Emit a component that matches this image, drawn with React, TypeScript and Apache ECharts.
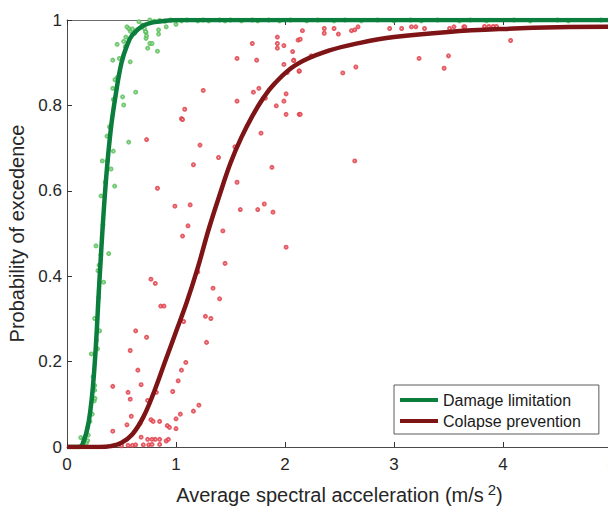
import React, { useEffect, useRef } from "react";
import * as echarts from "echarts";

const xTicks = [0, 1, 2, 3, 4, 5];
const yTicks = [0, 0.2, 0.4, 0.6, 0.8, 1];

const greenCurveX = [0, 0.1, 0.14, 0.2, 0.25, 0.3, 0.35, 0.4, 0.45, 0.5, 0.55, 0.6, 0.7, 0.8, 0.9, 1.0, 2.0, 3.0, 4.0, 5.0];
const greenCurveY = [0, 0, 0.005, 0.06, 0.18, 0.4, 0.6, 0.74, 0.83, 0.9, 0.94, 0.965, 0.987, 0.995, 0.998, 1, 1, 1, 1, 1];

const redCurveX = [0, 0.3, 0.4, 0.5, 0.6, 0.7, 0.8, 0.9, 1.0, 1.1, 1.2, 1.3, 1.4, 1.5, 1.6, 1.7, 1.8, 1.9, 2.1, 2.4, 2.7, 3.0, 3.5, 4.0, 4.5, 5.0];
const redCurveY = [0, 0, 0.002, 0.01, 0.03, 0.07, 0.13, 0.2, 0.27, 0.34, 0.42, 0.51, 0.59, 0.665, 0.725, 0.775, 0.817, 0.85, 0.895, 0.928, 0.947, 0.96, 0.972, 0.979, 0.983, 0.984];

const greenPoints = [
  [0.126, 0.022], [0.18, 0.01], [0.19, 0.015], [0.195, 0.028], [0.21, 0.06], [0.232, 0.077], [0.25, 0.108], [0.257, 0.114],
  [0.254, 0.133], [0.254, 0.144], [0.239, 0.165], [0.223, 0.218], [0.28, 0.23], [0.27, 0.25], [0.3, 0.272], [0.254, 0.301],
  [0.29, 0.35], [0.336, 0.386], [0.284, 0.413], [0.294, 0.426], [0.31, 0.45], [0.383, 0.453], [0.266, 0.471], [0.33, 0.52],
  [0.312, 0.588], [0.437, 0.611], [0.35, 0.62], [0.404, 0.651], [0.324, 0.67], [0.37, 0.67], [0.425, 0.693], [0.566, 0.714],
  [0.367, 0.728], [0.39, 0.75], [0.52, 0.801], [0.425, 0.814], [0.51, 0.82], [0.63, 0.831], [0.42, 0.84], [0.44, 0.86],
  [0.46, 0.865], [0.58, 0.902], [0.42, 0.906], [0.48, 0.91], [0.83, 0.927], [0.74, 0.934], [0.535, 0.938], [0.46, 0.943],
  [0.76, 0.945], [0.78, 0.945], [0.52, 0.95], [0.725, 0.957], [0.54, 0.96], [0.73, 0.963], [0.84, 0.967], [0.62, 0.969],
  [0.725, 0.971], [0.72, 0.973], [0.58, 0.974], [0.84, 0.977], [0.6, 0.979], [0.566, 0.98], [0.71, 0.98], [0.55, 0.984],
  [0.91, 0.984], [0.69, 0.988], [1.0, 0.99], [0.66, 0.996], [0.76, 1.0], [0.8, 0.997], [0.85, 0.999], [0.9, 0.997],
  [0.95, 1.0], [1.05, 0.998], [1.1, 1.0], [1.2, 0.998], [1.25, 1.0], [1.3, 0.998], [1.4, 1.0], [1.45, 0.998],
  [1.5, 1.0], [1.6, 0.998], [1.7, 1.0], [1.75, 0.998], [1.85, 1.0], [1.95, 0.998], [2.05, 1.0], [2.2, 0.998],
  [2.3, 1.0], [2.45, 0.998], [2.55, 1.0], [2.7, 0.998], [2.85, 1.0], [3.0, 0.998], [3.15, 1.0], [3.25, 0.998],
  [3.4, 1.0], [3.6, 0.998], [3.7, 1.0], [3.85, 0.998], [4.1, 1.0], [4.25, 0.998], [4.5, 1.0], [4.6, 0.998], [4.9, 1.0],
];

const redPoints = [
  [1.7, 0.945], [1.93, 0.96], [1.93, 0.945], [1.93, 0.934], [1.99, 0.94], [2.12, 0.953], [2.07, 0.926], [1.56, 0.91],
  [1.74, 0.906], [2.08, 0.906], [1.99, 0.896], [2.02, 0.877], [2.13, 0.88], [1.25, 0.835], [1.71, 0.831], [1.76, 0.84],
  [1.82, 0.817], [2.01, 0.827], [1.56, 0.81], [1.99, 0.81], [1.92, 0.799], [2.01, 0.779], [2.13, 0.779], [1.08, 0.791],
  [1.05, 0.769], [1.06, 0.767], [1.78, 0.735], [0.73, 0.72], [1.22, 0.707], [1.54, 0.703], [1.39, 0.678], [1.16, 0.661],
  [1.88, 0.655], [1.56, 0.62], [0.83, 0.606], [0.99, 0.564], [1.13, 0.567], [1.59, 0.556], [1.75, 0.556], [1.81, 0.569],
  [1.89, 0.55], [1.11, 0.518], [1.43, 0.506], [1.06, 0.494], [2.01, 0.468], [1.45, 0.43], [1.2, 0.41], [0.77, 0.393],
  [0.81, 0.383], [1.34, 0.372], [1.4, 0.347], [0.86, 0.33], [0.89, 0.33], [1.27, 0.306], [1.32, 0.301], [1.07, 0.294],
  [0.63, 0.272], [0.73, 0.257], [1.28, 0.245], [0.58, 0.226], [1.09, 0.198], [0.65, 0.18], [1.05, 0.18], [1.02, 0.155],
  [0.42, 0.142], [0.68, 0.146], [0.56, 0.128], [0.97, 0.13], [0.82, 0.128], [0.58, 0.112], [0.74, 0.109], [1.21, 0.098],
  [1.16, 0.084], [0.59, 0.072], [1.04, 0.077], [1.0, 0.066], [0.77, 0.064], [0.79, 0.06], [0.85, 0.06], [0.55, 0.052],
  [0.67, 0.055], [0.92, 0.05], [0.94, 0.046], [1.0, 0.043], [0.42, 0.037], [0.68, 0.023], [0.74, 0.018], [0.78, 0.018],
  [0.81, 0.018], [0.85, 0.018], [0.91, 0.014], [0.93, 0.018], [0.5, 0.003], [0.56, 0.004], [0.6, 0.004], [0.63, 0.005],
  [0.7, 0.005], [0.75, 0.005], [0.78, 0.006], [0.85, 0.006],
  [2.16, 0.975], [2.36, 0.98], [2.36, 0.969], [2.45, 0.98], [2.49, 0.967], [2.61, 0.975], [2.64, 0.977], [2.67, 0.984],
  [2.14, 0.955], [2.08, 0.905], [2.24, 0.916], [2.13, 0.881], [2.65, 0.89], [2.53, 0.876], [2.96, 0.98], [3.07, 0.98],
  [3.16, 0.984], [3.2, 0.984], [3.28, 0.98], [3.51, 0.98], [3.55, 0.984], [3.64, 0.984], [3.65, 0.984], [3.83, 0.985],
  [3.87, 0.985], [3.91, 0.985], [3.94, 0.985], [4.07, 0.952], [3.23, 0.91], [3.5, 0.916], [3.46, 0.887], [2.14, 0.779],
  [2.64, 0.67],
];

const seriesNames = ["Damage limitation", "Colapse prevention"];
const GREEN = "#0b7d3c";
const RED = "#7e1416";
const FONT = "'Liberation Sans', Arial, sans-serif";

export default function App() {
  const ref = useRef<HTMLDivElement>(null);
  useEffect(() => {
    if (!ref.current) return;
    const chart = echarts.init(ref.current, null, { renderer: "svg" });
    const greenLine = greenCurveX.map((x, i) => [x, greenCurveY[i]]);
    const redLine = redCurveX.map((x, i) => [x, redCurveY[i]]);
    const axisLine = { show: true, lineStyle: { color: "#4a4a4a", width: 1 } };
    chart.setOption({
      animation: false,
      backgroundColor: "#ffffff",
      grid: { left: 67, top: 20, width: 545, height: 427, outerBoundsMode: "none", containLabel: false },
      legend: {
        data: seriesNames,
        orient: "vertical",
        left: 394,
        top: 385,
        padding: [7, 18, 5, 6],
        itemGap: 5,
        itemWidth: 38,
        itemHeight: 4,
        icon: "rect",
        backgroundColor: "#ffffff",
        borderColor: "#5a5a5a",
        borderWidth: 1,
        borderRadius: 0,
        textStyle: { fontSize: 16, fontFamily: FONT, color: "#1a1a1a" },
      },
      xAxis: [
        {
          type: "value",
          min: xTicks[0],
          max: xTicks[xTicks.length - 1],
          interval: 1,
          position: "bottom",
          axisLine,
          axisTick: { show: true, inside: true, length: 5, lineStyle: { color: "#333" } },
          axisLabel: { fontSize: 17, fontFamily: FONT, color: "#262626", margin: 9 },
          splitLine: { show: false },
          name: "Average spectral acceleration (m/s{sup|2})",
          nameLocation: "middle",
          nameGap: 35,
          nameTextStyle: {
            fontSize: 20,
            fontFamily: FONT,
            color: "#262626",
            rich: { sup: { fontSize: 15, fontFamily: FONT, color: "#262626", padding: [0, 0, 10, 4] } },
          },
        },
        {
          type: "value",
          min: xTicks[0],
          max: xTicks[xTicks.length - 1],
          interval: 1,
          position: "top",
          axisLine: { show: true, lineStyle: { color: "#6a6a6a", width: 1 } },
          axisTick: { show: true, inside: true, length: 5, lineStyle: { color: "#333" } },
          axisLabel: { show: false },
          splitLine: { show: false },
        },
      ],
      yAxis: {
        type: "value",
        min: yTicks[0],
        max: yTicks[yTicks.length - 1],
        interval: 0.2,
        axisLine,
        axisTick: { show: true, inside: true, length: 5, lineStyle: { color: "#333" } },
        axisLabel: { fontSize: 17, fontFamily: FONT, color: "#262626", margin: 5 },
        splitLine: { show: false },
        name: "Probability of excedence",
        nameLocation: "middle",
        nameGap: 35,
        nameTextStyle: { fontSize: 20, fontFamily: FONT, color: "#262626" },
      },
      series: [
        {
          name: "green-points",
          type: "scatter",
          data: greenPoints,
          symbol: "emptyCircle",
          symbolSize: 3,
          itemStyle: { color: "#5cbf5c", borderColor: "#4cb84c", borderWidth: 1, opacity: 0.85 },
          z: 2,
        },
        {
          name: "red-points",
          type: "scatter",
          data: redPoints,
          symbol: "emptyCircle",
          symbolSize: 3,
          itemStyle: { color: "#e0404a", borderColor: "#d9303c", borderWidth: 1, opacity: 0.85 },
          z: 2,
        },
        {
          name: seriesNames[0],
          type: "line",
          data: greenLine,
          smooth: 0.4,
          showSymbol: false,
          symbol: "none",
          lineStyle: { color: GREEN, width: 4.5 },
          itemStyle: { color: GREEN },
          z: 3,
        },
        {
          name: seriesNames[1],
          type: "line",
          data: redLine,
          smooth: 0.4,
          showSymbol: false,
          symbol: "none",
          lineStyle: { color: RED, width: 4.5 },
          itemStyle: { color: RED },
          z: 4,
        },
      ],
    });
    return () => chart.dispose();
  }, []);
  return (
    <div
      ref={ref}
      style={{ position: "fixed", left: 0, top: 0, width: 608, height: 506, overflow: "hidden", background: "#fff" }}
    />
  );
}
